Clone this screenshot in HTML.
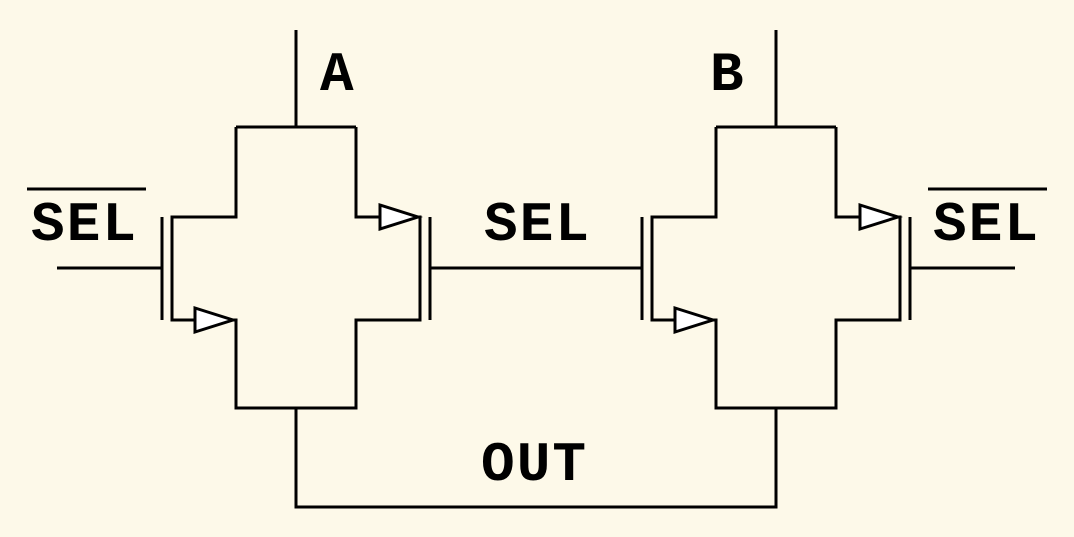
<!DOCTYPE html>
<html><head><style>
html,body{margin:0;padding:0;background:#fdf9e9;}
svg{display:block}
text{font-family:"Courier New","Nimbus Mono PS","FreeMono","Liberation Mono",monospace;font-weight:bold;font-size:56px;fill:#000}
</style></head><body>
<svg width="1074" height="537" viewBox="0 0 1074 537">
<rect width="1074" height="537" fill="#fdf9e9"/>
<g stroke="#000" stroke-width="3" fill="none">
<g id="L">
<path d="M296 30V127M236 127H356M236 127V217H172V320H236V408H356V320H420V217H356V127"/>
<path d="M162 217V320M430 217V320"/>
</g>
<g transform="translate(480,0)">
<path d="M296 30V127M236 127H356M236 127V217H172V320H236V408H356V320H420V217H356V127"/>
<path d="M162 217V320M430 217V320"/>
</g>
<path d="M57 268H162M430 268H642M910 268H1015"/>
<path d="M296 408V507H776V408"/>
<path d="M27 189H146M928 189H1047"/>
<g fill="#fff">
<path d="M195 308L233 320L195 332Z"/>
<path d="M380 205L418 217L380 229Z"/>
<path d="M675 308L713 320L675 332Z"/>
<path d="M860 205L898 217L860 229Z"/>
</g>
</g>
<text x="320" y="90">A</text>
<text x="710" y="90">B</text>
<text x="31" y="240" textLength="105">SEL</text>
<text x="484" y="240" textLength="105">SEL</text>
<text x="933" y="240" textLength="105">SEL</text>
<text x="481" y="480" textLength="105">OUT</text>
</svg>
</body></html>
